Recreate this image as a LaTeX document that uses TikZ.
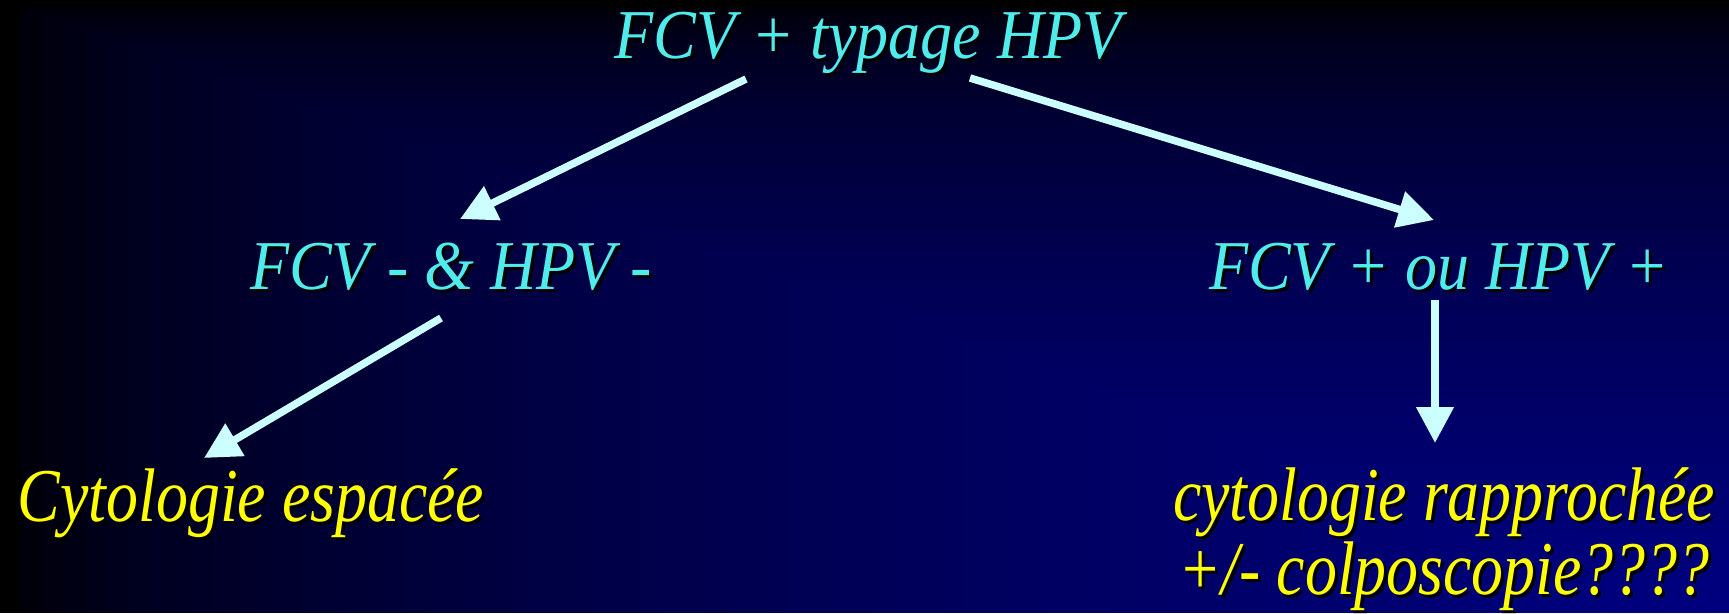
\documentclass[tikz,border=0pt]{standalone}
\usepackage{fontspec}
\setmainfont{Liberation Serif}
\newfontfamily\cyanfont[FakeStretch=0.915]{Liberation Serif}
\newfontfamily\yelfont[FakeStretch=0.84]{Liberation Serif}
\usetikzlibrary{arrows.meta}
\definecolor{bgnavy}{RGB}{0,0,128}
\definecolor{txtcyan}{RGB}{80,235,235}
\definecolor{arrcyan}{RGB}{204,255,255}
\definecolor{txtyellow}{RGB}{255,255,0}
\newcommand\shadowed[1]{\makebox[0pt][l]{\kern3pt\raisebox{-3pt}{\color{black}#1}}#1}
\tikzset{
  cyantext/.style={text=txtcyan, font=\cyanfont\itshape\fontsize{70}{80}\selectfont, anchor=base, inner sep=0pt},
  yeltext/.style={text=txtyellow, font=\yelfont\itshape\fontsize{76}{70}\selectfont, anchor=base, inner sep=0pt, align=center},
  arr/.style={draw=arrcyan, line width=7.5pt, -{Triangle[length=36pt,width=36pt]}}
}
\begin{document}
\begin{tikzpicture}[x=1pt,y=-1pt]
\useasboundingbox (0,0) rectangle (1729,613);
% background: corner gradient
\fill[black] (0,0) rectangle (1729,613);
\foreach \i in {1,...,80}{
  \pgfmathsetmacro\p{100*((\i)/80)^0.55}
  \pgfmathsetmacro\bx{1729/81*\i}
  \pgfmathsetmacro\by{613/81*\i}
  \fill[bgnavy!\p!black] (\bx,\by) rectangle (1729,613);
}
% texts
\node[cyantext] (top) at (868,58) {\shadowed{FCV + typage HPV}};
\node[cyantext] (neg) at (451,289) {\shadowed{FCV - \& HPV -}};
\node[cyantext] (pos) at (1439,289) {\shadowed{FCV + ou HPV +}};
\node[yeltext] (esp) at (251,521) {\shadowed{Cytologie espacée}};
\node[yeltext] (rap) at (1444,594) {\shadowed{cytologie rapprochée}\\\shadowed{+/- colposcopie????}};
% arrow end points
\coordinate (a1s) at (746,79);
\coordinate (a1e) at (460,219);
\coordinate (a2s) at (970,78);
\coordinate (a2e) at (1434,220);
\coordinate (a3s) at (441,318);
\coordinate (a3e) at (204,458);
\coordinate (a4s) at (1435,300);
\coordinate (a4e) at (1435,443);
\draw[arr] (a1s) -- (a1e);
\draw[arr] (a2s) -- (a2e);
\draw[arr] (a3s) -- (a3e);
\draw[arr] (a4s) -- (a4e);
\end{tikzpicture}
\end{document}
